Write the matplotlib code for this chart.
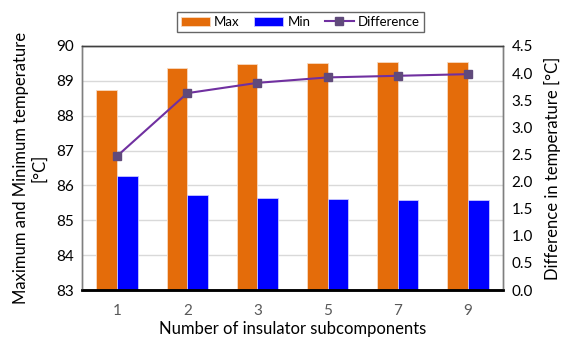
import matplotlib
matplotlib.use("Agg")
import matplotlib.pyplot as plt
import numpy as np

plt.rcParams['font.family'] = ['Lato', 'DejaVu Sans']

categories = ["1", "2", "3", "5", "7", "9"]
max_temp = [88.74, 89.36, 89.47, 89.51, 89.53, 89.54]
min_temp = [86.27, 85.73, 85.65, 85.60, 85.59, 85.57]
difference = [2.47, 3.63, 3.82, 3.92, 3.95, 3.98]

fig = plt.figure(figsize=(5.68, 3.38), dpi=100)
ax = fig.add_axes([0.1444, 0.142, 0.7412, 0.722])
ax2 = ax.twinx()

x = np.arange(len(categories))
w = 0.295
ax.bar(x - w / 2, max_temp, w, color="#E46C0A", edgecolor="#F8D9C0", linewidth=0.6,
       label="Max", zorder=2)
ax.bar(x + w / 2, min_temp, w, color="#0000FF", edgecolor="#C8C8FF", linewidth=0.6,
       label="Min", zorder=2)
ax2.plot(x, difference, color="#7030A0", linewidth=1.5, marker="s", markersize=6,
         markerfacecolor="#604A7B", markeredgecolor="#604A7B", label="Difference")

ax.set_ylim(83, 90)
ax.set_xlim(-0.5, len(categories) - 0.5)
ax.set_yticks(np.arange(83, 91, 1))
ax2.set_ylim(0, 4.5)
ax2.set_yticks(np.arange(0, 4.51, 0.5))
ax2.set_yticklabels([f"{v:.1f}" for v in np.arange(0, 4.51, 0.5)])
ax.set_xticks(x)
ax.set_xticklabels(categories)

ax.grid(axis="y", color="#D9D9D9", linewidth=1, zorder=0)
ax.set_axisbelow(True)

for a in (ax, ax2):
    for s in ("left", "right", "top"):
        a.spines[s].set_color("#7F7F7F")
        a.spines[s].set_linewidth(1.0)
    a.spines["bottom"].set_color("black")
    a.spines["bottom"].set_linewidth(1.8)
    a.tick_params(length=0, labelsize=11)
ax.spines["top"].set_color("#404040")
ax2.spines["top"].set_color("#404040")

ax.tick_params(axis="x", colors="#595959", pad=10)
ax.tick_params(axis="y", colors="black", pad=6)
ax2.tick_params(axis="y", colors="black", pad=6)

ax.set_xlabel("Number of insulator subcomponents", fontsize=12, labelpad=2)
ax.set_ylabel("Maximum and Minimum temperature\n[°C]", fontsize=12, labelpad=6)
ax2.set_ylabel("Difference in temperature [°C]", fontsize=12, labelpad=8)

h1, l1 = ax.get_legend_handles_labels()
h2, l2 = ax2.get_legend_handles_labels()
leg = fig.legend(h1 + h2, l1 + l2, loc="center", bbox_to_anchor=(0.529, 0.935),
                 ncol=3, fontsize=9.5, frameon=True, fancybox=False,
                 edgecolor="#404040", handlelength=2.2, columnspacing=1.1,
                 borderpad=0.3, handletextpad=0.3)
leg.get_frame().set_linewidth(1.0)

fig.savefig("out.png", dpi=100)
